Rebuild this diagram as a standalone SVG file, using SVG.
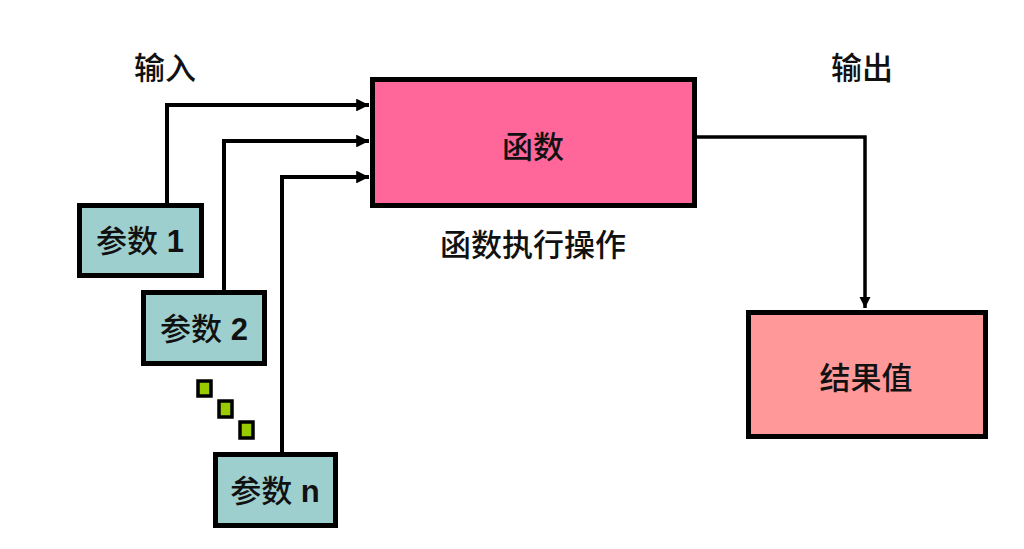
<svg xmlns="http://www.w3.org/2000/svg" width="1024" height="549" viewBox="0 0 1024 549">
<defs>
<style>
.t{font-family:"Liberation Sans","Noto Sans CJK SC",sans-serif;font-size:31px;font-weight:500;fill:#111;text-anchor:middle}
.b{font-weight:bold}
.box{stroke:#000;stroke-width:5}
.p{fill:#9ecfcf}
.c{fill:none;stroke:#000;stroke-width:4}
.dot{fill:#99cc00;stroke:#000;stroke-width:3.5}
</style>
<marker id="ah" viewBox="0 0 10 10" refX="10" refY="5" markerWidth="3.2" markerHeight="3.2" orient="auto" markerUnits="strokeWidth">
<path d="M0,0 L10,5 L0,10 z" fill="#000"/>
</marker>
</defs>
<rect width="1024" height="549" fill="#fff"/>
<text class="t" x="165" y="79">输入</text>
<text class="t" x="862" y="79">输出</text>
<g id="connectors">
<path class="c" d="M167,203 V105 H369" marker-end="url(#ah)"/>
<path class="c" d="M224,290 V141 H369" marker-end="url(#ah)"/>
<path class="c" d="M282,452 V177 H369" marker-end="url(#ah)"/>
<path class="c" style="stroke-width:3.5" d="M697,137 H865 V308" marker-end="url(#ah)"/>
</g>
<g id="func">
<rect class="box" x="372.5" y="79.5" width="322" height="126" fill="#ff6699"/>
<text class="t" x="533" y="158">函数</text>
</g>
<text class="t" x="533" y="256">函数执行操作</text>
<g id="p1">
<rect class="box p" x="79.5" y="205.5" width="122" height="70"/>
<text class="t" x="140" y="252">参数 <tspan class="b">1</tspan></text>
</g>
<g id="p2">
<rect class="box p" x="143.5" y="292.5" width="121" height="71"/>
<text class="t" x="204" y="340">参数 <tspan class="b">2</tspan></text>
</g>
<g id="dots">
<rect class="dot" x="198" y="381" width="13" height="15"/>
<rect class="dot" x="219" y="401" width="13" height="16"/>
<rect class="dot" x="240" y="422" width="13" height="16"/>
</g>
<g id="pn">
<rect class="box p" x="215.5" y="454.5" width="120" height="71"/>
<text class="t" x="275" y="502">参数 <tspan class="b">n</tspan></text>
</g>
<g id="result">
<rect class="box" x="748.5" y="312.5" width="237" height="124" fill="#ff9999"/>
<text class="t" x="866" y="389">结果值</text>
</g>
</svg>
